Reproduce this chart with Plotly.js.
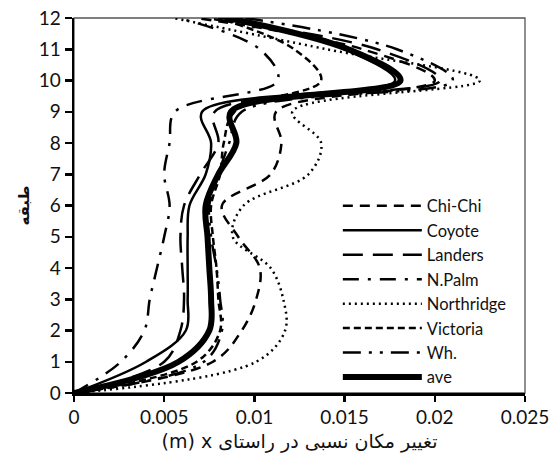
<!DOCTYPE html>
<html>
<head>
<meta charset="utf-8">
<script src="https://cdn.plot.ly/plotly-3.0.1.min.js"></script>
<style>html,body{margin:0;padding:0;background:#fff;}#chart{width:552px;height:468px;}</style>
</head>
<body>
<div id="chart"></div>
<script>
var floors = [0,1,2,3,4,5,6,7,8,9,10,11,12];
var seriesNames = ["Chi-Chi","Coyote","Landers","N.Palm","Northridge","Victoria","Wh.","ave"];
var chichi     = [0,0.0077,0.0093,0.0101,0.0103,0.0091,0.0082,0.0109,0.0115,0.0112,0.0200,0.0160,0.0068];
var coyote     = [0,0.0040,0.0062,0.0063,0.0063,0.0063,0.0064,0.0073,0.0076,0.0071,0.0178,0.0150,0.0082];
var landers    = [0,0.0050,0.0059,0.0061,0.0060,0.0059,0.0061,0.0070,0.0080,0.0078,0.0203,0.0168,0.0072];
var npalm      = [0,0.0026,0.0039,0.0042,0.0046,0.0050,0.0053,0.0050,0.0053,0.0056,0.0113,0.0103,0.0058];
var northridge = [0,0.0101,0.0117,0.0116,0.0109,0.0088,0.0094,0.0130,0.0137,0.0121,0.0225,0.0140,0.0055];
var victoria   = [0,0.0068,0.0081,0.0080,0.0079,0.0077,0.0076,0.0081,0.0083,0.0089,0.0137,0.0122,0.0080];
var wh         = [0,0.0072,0.0082,0.0081,0.0079,0.0076,0.0075,0.0080,0.0086,0.0093,0.0210,0.0179,0.0095];
var ave        = [0,0.0058,0.0075,0.0076,0.0075,0.0074,0.0073,0.0080,0.0090,0.0087,0.0181,0.0152,0.0085];
var xTickVals = [0,0.005,0.01,0.015,0.02,0.025];
var xTickText = ["0","0.005","0.01","0.015","0.02","0.025"];
var yTickVals = [0,1,2,3,4,5,6,7,8,9,10,11,12];
var xTitle = "(m) x تغییر مکان نسبی در راستای";
var yTitle = "طبقه";

var values = [chichi, coyote, landers, npalm, northridge, victoria, wh, ave];
var dashes = ["10px,7px","solid","20px,10px","16px,9px,3px,9px","2px,4px","7px,4px","18px,8px,3px,8px,3px,8px","solid"];
var widths = [2.5,2.5,2.5,2.5,2.5,2.5,2.5,6];

var traces = values.map(function(v,i){
  return {
    x: v, y: floors, name: seriesNames[i], type: 'scatter', mode: 'lines',
    line: {color: '#000', width: widths[i], dash: dashes[i], shape: 'spline', smoothing: 1}
  };
});

var font = "Lato, 'DejaVu Sans', sans-serif";
var layout = {
  width: 552, height: 468,
  margin: {l: 74, r: 27, t: 18, b: 75},
  paper_bgcolor: '#fff', plot_bgcolor: '#fff',
  font: {family: font, color: '#111', size: 19},
  showlegend: true,
  legend: {
    x: 0.585, y: 0.545, xanchor: 'left', yanchor: 'top',
    bgcolor: 'rgba(255,255,255,0)', borderwidth: 0,
    font: {family: font, size: 16.5, color: '#111'},
    itemwidth: 79, tracegroupgap: 0
  },
  xaxis: {
    range: [0, 0.025], tickvals: xTickVals, ticktext: xTickText,
    showgrid: false, zeroline: false, showline: true, linecolor: '#000', linewidth: 2.5,
    ticks: 'outside', ticklen: 6, tickwidth: 2.5, tickcolor: '#000',
    tickfont: {family: font, size: 19, color: '#111'},
    title: {text: xTitle, font: {family: "'DejaVu Sans', sans-serif", size: 19, color: '#111'}, standoff: 8}
  },
  yaxis: {
    range: [0, 12], tickvals: yTickVals,
    showgrid: false, zeroline: false, showline: true, linecolor: '#000', linewidth: 2.5,
    ticks: 'outside', ticklen: 7, tickwidth: 2.5, tickcolor: '#000',
    tickfont: {family: font, size: 19, color: '#111'},
    title: {text: "<b>" + yTitle + "</b>", font: {family: "'DejaVu Sans', sans-serif", size: 15, color: '#111'}, standoff: 6}
  },
  shapes: [{type: 'rect', xref: 'paper', yref: 'paper', x0: 0, x1: 1, y0: 0, y1: 1,
            line: {color: '#555', width: 1.3}, layer: 'below'}]
};
Plotly.newPlot('chart', traces, layout, {staticPlot: true});
</script>
</body>
</html>
